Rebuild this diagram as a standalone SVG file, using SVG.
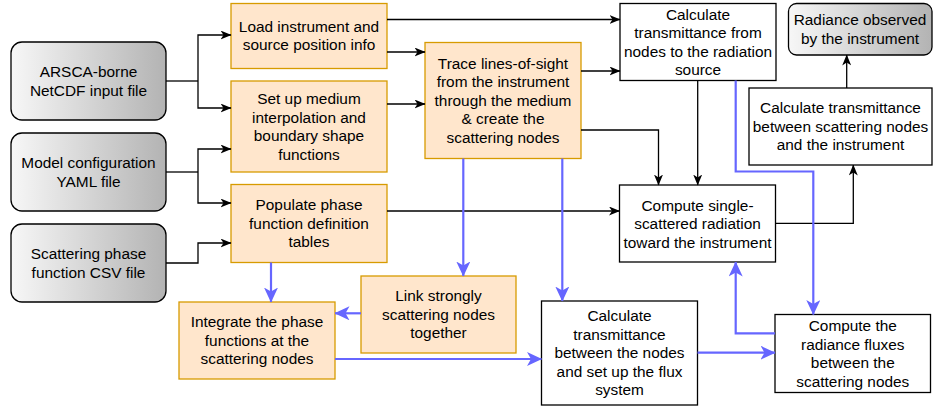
<svg xmlns="http://www.w3.org/2000/svg" width="935" height="406" viewBox="0 0 935 406">
<defs>
<linearGradient id="gray" x1="0" y1="0" x2="1" y2="0">
<stop offset="0" stop-color="#f7f7f7"/>
<stop offset="1" stop-color="#b3b3b3"/>
</linearGradient>
<marker id="ab" viewBox="0 0 11 9" markerUnits="userSpaceOnUse" markerWidth="11" markerHeight="9" refX="10.5" refY="4.5" orient="auto">
<path d="M0,0 L11,4.5 L0,9 L3,4.5 Z" fill="#000"/>
</marker>
<marker id="au" viewBox="0 0 15 14" markerUnits="userSpaceOnUse" markerWidth="15" markerHeight="14" refX="14.5" refY="7" orient="auto">
<path d="M0,0 L15,7 L0,14 L4,7 Z" fill="#6666ff"/>
</marker>
<style>
text{font-family:"Liberation Sans",Arial,sans-serif;font-size:15.4px;fill:#000;text-anchor:middle}
.in{fill:url(#gray);stroke:#000;stroke-width:1.3}
.or{fill:#ffe6cc;stroke:#d79b00;stroke-width:1.3}
.wh{fill:#fff;stroke:#000;stroke-width:1.3}
.k{fill:none;stroke:#000;stroke-width:1.3;marker-end:url(#ab)}
.k0{fill:none;stroke:#000;stroke-width:1.3}
.u{fill:none;stroke:#6666ff;stroke-width:2.2;marker-end:url(#au)}
</style>
</defs>

<g id="arsca">
<rect class="in" x="11" y="42" width="155" height="78" rx="11"/>
<text x="88.5" y="77.2">ARSCA-borne</text>
<text x="88.5" y="95.7">NetCDF input file</text>
</g>
<g id="yaml">
<rect class="in" x="11" y="133" width="155" height="78" rx="11"/>
<text x="88.5" y="168.2">Model configuration</text>
<text x="88.5" y="186.7">YAML file</text>
</g>
<g id="csv">
<rect class="in" x="11" y="224" width="155" height="78" rx="11"/>
<text x="88.5" y="259.2">Scattering phase</text>
<text x="88.5" y="277.7">function CSV file</text>
</g>

<g id="load">
<rect class="or" x="231" y="3.5" width="156" height="65"/>
<text x="309" y="31.9">Load instrument and</text>
<text x="309" y="50.4">source position info</text>
</g>
<g id="setup">
<rect class="or" x="231" y="81" width="156" height="91"/>
<text x="309" y="104.1">Set up medium</text>
<text x="309" y="122.6">interpolation and</text>
<text x="309" y="141.1">boundary shape</text>
<text x="309" y="159.6">functions</text>
</g>
<g id="populate">
<rect class="or" x="231" y="184.5" width="156" height="78"/>
<text x="309" y="210.2">Populate phase</text>
<text x="309" y="228.7">function definition</text>
<text x="309" y="247.2">tables</text>
</g>
<g id="trace">
<rect class="or" x="425" y="42.5" width="156" height="116"/>
<text x="503" y="68.9">Trace lines-of-sight</text>
<text x="503" y="87.4">from the instrument</text>
<text x="503" y="105.9">through the medium</text>
<text x="503" y="124.4">&amp; create the</text>
<text x="503" y="142.9">scattering nodes</text>
</g>
<g id="link">
<rect class="or" x="361" y="276" width="155" height="77"/>
<text x="438.5" y="301.1">Link strongly</text>
<text x="438.5" y="319.6">scattering nodes</text>
<text x="438.5" y="338.1">together</text>
</g>
<g id="integrate">
<rect class="or" x="179" y="302" width="156" height="77"/>
<text x="257" y="327.2">Integrate the phase</text>
<text x="257" y="345.7">functions at the</text>
<text x="257" y="364.2">scattering nodes</text>
</g>

<g id="transsource">
<rect class="wh" x="620" y="3.5" width="156" height="77"/>
<text x="698" y="19.6">Calculate</text>
<text x="698" y="38.1">transmittance from</text>
<text x="698" y="56.6">nodes to the radiation</text>
<text x="698" y="75.1">source</text>
</g>
<g id="radiance">
<rect class="in" x="788.5" y="3.5" width="143.5" height="51.5" rx="8"/>
<text x="860" y="25.4">Radiance observed</text>
<text x="860" y="43.9">by the instrument</text>
</g>
<g id="transinstr">
<rect class="wh" x="749" y="88" width="183" height="77"/>
<text x="840.5" y="113.2">Calculate transmittance</text>
<text x="840.5" y="131.7">between scattering nodes</text>
<text x="840.5" y="150.2">and the instrument</text>
</g>
<g id="single">
<rect class="wh" x="619.5" y="185" width="156" height="77"/>
<text x="697.5" y="210.6">Compute single-</text>
<text x="697.5" y="229.1">scattered radiation</text>
<text x="697.5" y="247.6">toward the instrument</text>
</g>
<g id="transnodes">
<rect class="wh" x="541.5" y="301" width="156" height="104"/>
<text x="619.5" y="321.4">Calculate</text>
<text x="619.5" y="339.9">transmittance</text>
<text x="619.5" y="358.4">between the nodes</text>
<text x="619.5" y="376.9">and set up the flux</text>
<text x="619.5" y="395.4">system</text>
</g>
<g id="fluxes">
<rect class="wh" x="775" y="314.5" width="155.5" height="78"/>
<text x="852.8" y="331">Compute the</text>
<text x="852.8" y="349.5">radiance fluxes</text>
<text x="852.8" y="368">between the</text>
<text x="852.8" y="386.5">scattering nodes</text>
</g>

<g id="connectors">
<path class="k0" d="M166,81 H198"/>
<path class="k" d="M198,81 V35 H231"/>
<path class="k" d="M198,81 V108 H231"/>
<path class="k0" d="M166,172 H198"/>
<path class="k" d="M198,172 V149 H231"/>
<path class="k" d="M198,172 V203 H231"/>
<path class="k" d="M166,263 H198 V243 H231"/>
<path class="k" d="M387,19.5 H620"/>
<path class="k" d="M387,52 H425"/>
<path class="k" d="M387,104 H425"/>
<path class="k" d="M581,71 H620"/>
<path class="k" d="M581,130 H658.5 V185"/>
<path class="k" d="M697.7,80.5 V185"/>
<path class="k" d="M387,211 H619.5"/>
<path class="k" d="M775.5,223.3 H853.3 V165"/>
<path class="k" d="M846.7,88 V55"/>
<path class="u" d="M735.7,80.5 V171.5 H813.3 V314.5"/>
<path class="u" d="M463.3,158.5 V276"/>
<path class="u" d="M562.3,158.5 V301"/>
<path class="u" d="M271,262.5 V302"/>
<path class="u" d="M361,313.3 H335"/>
<path class="u" d="M335,359 H541.5"/>
<path class="u" d="M697.5,352.7 H775"/>
<path class="u" d="M775,333.3 H735.7 V262"/>
</g>
</svg>
